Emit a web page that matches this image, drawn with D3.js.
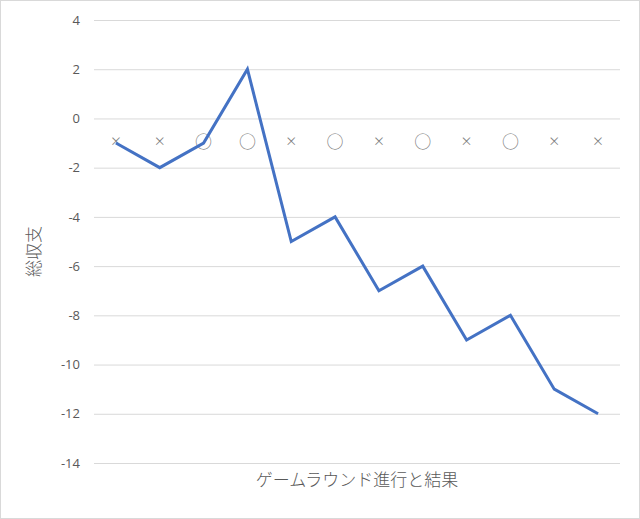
<!DOCTYPE html>
<html><head><meta charset="utf-8">
<script src="https://cdn.jsdelivr.net/npm/d3@7"></script>
<style>body{margin:0;background:#fff}</style>
</head><body>
<svg id="c" width="640" height="519"></svg>
<script>
const categories = ["×","×","○","○","×","○","×","○","×","○","×","×"];
const totals = [-1,-2,-1,2,-5,-4,-7,-6,-9,-8,-11,-12];
const yTicks = [4,2,0,-2,-4,-6,-8,-10,-12,-14];
const xTitle = "ゲームラウンド進行と結果";
const yTitle = "総収支";

(function(){
const svg = d3.select("#c");
svg.append("rect").attr("x",0.5).attr("y",0.5).attr("width",639).attr("height",518)
  .attr("fill","#fff").attr("stroke","#d9d9d9");

const mL = 94, mR = 620, mT = 20, mB = 463;
const x = d3.scaleBand().domain(d3.range(categories.length)).range([mL,mR]);
const y = d3.scaleLinear().domain([-14,4]).range([mB,mT]);

const yAxis = svg.append("g").attr("transform",`translate(${mL},0)`)
  .call(d3.axisLeft(y).tickValues(yTicks).tickSize(-(mR-mL)).tickPadding(14).tickFormat(d3.format("d")));
yAxis.select(".domain").remove();
yAxis.selectAll(".tick line").attr("stroke","#d9d9d9").attr("stroke-width",1);
yAxis.selectAll(".tick text").attr("fill","#595959").attr("font-size","13px")
  .attr("font-family","'Open Sans','Liberation Sans',sans-serif").text(d=>d<0?"-"+Math.abs(d):d);

svg.append("g").selectAll("text").data(categories).join("text")
  .attr("x",(d,i)=>x(i)+x.bandwidth()/2)
  .attr("y",y(0)+22)
  .attr("text-anchor","middle").attr("dominant-baseline","central")
  .attr("fill","#7f7f7f")
  .attr("font-family","'Noto Sans CJK JP',sans-serif")
  .attr("font-size",d=>d==="○"?"17px":"12px")
  .text(d=>d);

const line = d3.line().x((d,i)=>x(i)+x.bandwidth()/2).y(d=>y(d));
svg.append("path").datum(totals).attr("d",line).attr("fill","none")
  .attr("stroke","#4472C4").attr("stroke-width",3).attr("stroke-linejoin","miter");

svg.append("text").attr("x",(mL+mR)/2).attr("y",486).attr("text-anchor","middle")
  .attr("fill","#595959").attr("font-size","17px").attr("font-weight","300")
  .attr("font-family","'Noto Sans CJK JP',sans-serif").text(xTitle);

svg.append("text").attr("transform",`translate(40,${(mT+mB)/2+10}) rotate(-90)`)
  .attr("text-anchor","middle").attr("fill","#595959").attr("font-size","17px").attr("font-weight","300")
  .attr("font-family","'Noto Sans CJK JP',sans-serif").text(yTitle);
})();
</script>
</body></html>
